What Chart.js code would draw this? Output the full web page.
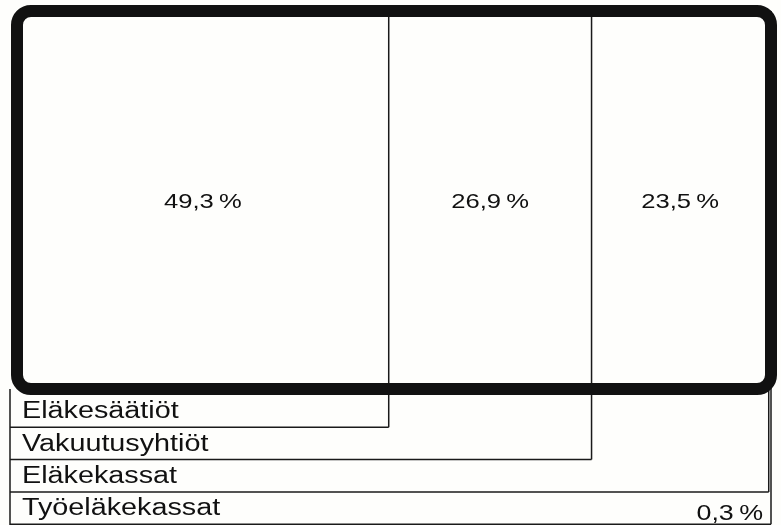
<!DOCTYPE html>
<html>
<head>
<meta charset="utf-8">
<script src="https://cdn.jsdelivr.net/npm/chart.js@4"></script>
<style>
  body { margin: 0; background: #fefefc; }
  canvas { display: block; }
</style>
</head>
<body>
<canvas id="grafico" width="781" height="525"></canvas>
<script>
'use strict'

const categorias = ['Eläkesäätiöt', 'Vakuutusyhtiöt', 'Eläkekassat', 'Työeläkekassat']
const osuudet = [49.3, 26.9, 23.5, 0.3]

// teksti venytettynä vaakasuunnassa (alkuperäinen on leveää Helveticaa)
function venytetty(ctx, txt, x, y, align, sx) {
  ctx.save()
  ctx.translate(x, y)
  ctx.scale(sx, 1)
  ctx.textAlign = align
  ctx.fillText(txt, 0, 0)
  ctx.restore()
}

function viiva(ctx, x1, y1, x2, y2) {
  ctx.beginPath()
  ctx.moveTo(x1, y1)
  ctx.lineTo(x2, y2)
  ctx.stroke()
}

const laatikko = {
  id: 'laatikko',
  afterDatasetsDraw(chart) {
    const ctx = chart.ctx
    const a = chart.chartArea
    const rivinAlku = a.bottom + 6
    const rivinKorkeus = 32.3
    const vasen = a.left - 7

    ctx.save()
    ctx.strokeStyle = '#1a1a1a'
    ctx.fillStyle = '#111'
    ctx.lineWidth = 1.5
    ctx.textBaseline = 'alphabetic'

    viiva(ctx, vasen, a.bottom, vasen, 525)

    categorias.forEach((nimi, i) => {
      const bar = chart.getDatasetMeta(i).data[0]
      const xr = bar.x
      const yb = rivinAlku + rivinKorkeus * (i + 1)
      viiva(ctx, xr, a.top, xr, yb)
      viiva(ctx, vasen, yb, xr, yb)

      ctx.font = '23px "Liberation Sans", Arial, sans-serif'
      venytetty(ctx, nimi, a.left + 5, yb - 9, 'left', 1.25)

      const teksti = osuudet[i].toFixed(1).replace('.', ',') + '\u2009%'
      if (bar.x - bar.base > 40) {
        ctx.font = '21px "Liberation Sans", Arial, sans-serif'
        venytetty(ctx, teksti, (bar.x + bar.base) / 2, (a.top + a.bottom) / 2 + 8, 'center', 1.22)
      } else {
        ctx.font = '22px "Liberation Sans", Arial, sans-serif'
        venytetty(ctx, teksti, a.right - 8, yb - 4, 'right', 1.22)
      }
    })

    ctx.lineWidth = 12
    ctx.strokeStyle = '#111'
    ctx.beginPath()
    ctx.roundRect(a.left, a.top, a.right - a.left, a.bottom - a.top, 14)
    ctx.stroke()
    ctx.restore()
  }
}

const ctx = document.getElementById('grafico').getContext('2d')
new Chart(ctx, {
  type: 'bar',
  data: {
    labels: ['Osuus'],
    datasets: categorias.map((nimi, i) => ({
      label: nimi,
      data: [osuudet[i]],
      backgroundColor: '#fefefc',
      borderWidth: 0,
      barPercentage: 1,
      categoryPercentage: 1
    }))
  },
  options: {
    indexAxis: 'y',
    responsive: false,
    animation: false,
    layout: { padding: { left: 17, top: 11, right: 10, bottom: 136 } },
    plugins: { legend: { display: false }, tooltip: { enabled: false } },
    scales: {
      x: { display: false, stacked: true, min: 0, max: 100 },
      y: { display: false, stacked: true }
    }
  },
  plugins: [laatikko]
})
</script>
</body>
</html>
